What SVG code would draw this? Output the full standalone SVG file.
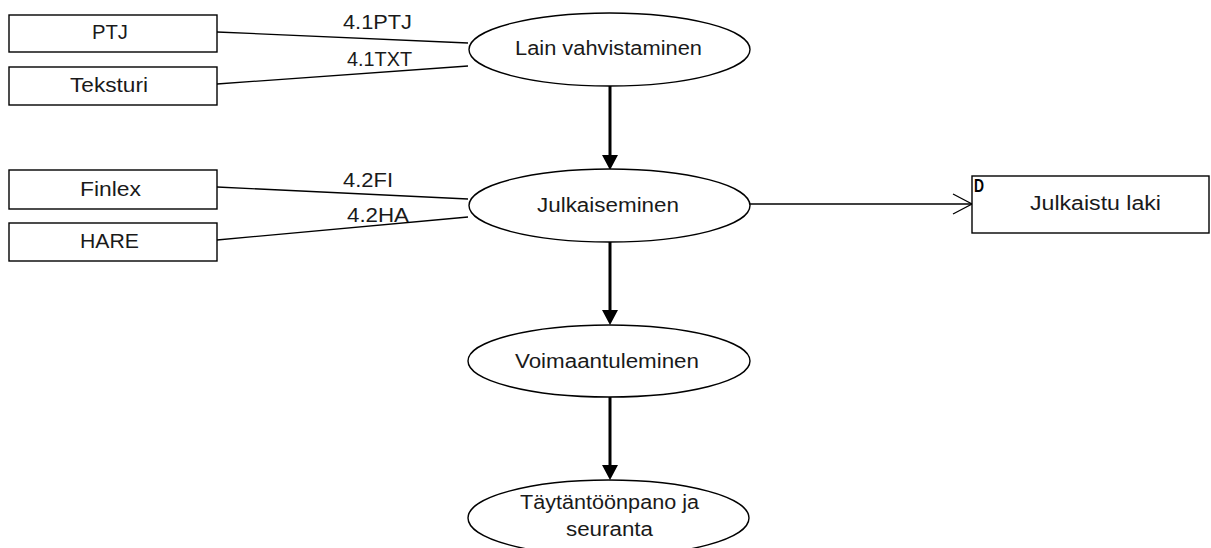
<svg xmlns="http://www.w3.org/2000/svg" width="1211" height="548" viewBox="0 0 1211 548">
  <style>
    .box { fill: #ffffff; stroke: #000000; stroke-width: 1.4; }
    .proc { fill: #ffffff; stroke: #000000; stroke-width: 1.4; }
    .flow { fill: none; stroke: #000000; stroke-width: 1.3; }
    .main { fill: none; stroke: #000000; stroke-width: 3; }
    .head { fill: #000000; stroke: none; }
    text { font-family: "Liberation Sans", Arial, sans-serif; font-size: 20px; fill: #1a1a1a; }
    .tag { font-weight: bold; font-size: 18px; fill: #000000; }
  </style>
  <rect width="1211" height="548" fill="#ffffff"/>

  <!-- connectors -->
  <g id="connectors">
    <!-- data inputs -->
    <polyline class="flow" points="217,32 468,43"/>
    <polyline class="flow" points="217,84 468,66"/>
    <polyline class="flow" points="217,187 468,199"/>
    <polyline class="flow" points="217,240 468,217"/>
    <text x="343" y="29" textLength="69" lengthAdjust="spacingAndGlyphs">4.1PTJ</text>
    <text x="347" y="66" textLength="65" lengthAdjust="spacingAndGlyphs">4.1TXT</text>
    <text x="343" y="187" textLength="50" lengthAdjust="spacingAndGlyphs">4.2FI</text>
    <text x="347" y="222" textLength="62" lengthAdjust="spacingAndGlyphs">4.2HA</text>

    <!-- process sequence -->
    <line class="main" x1="610" y1="86" x2="610" y2="157"/>
    <polygon class="head" points="602,155 618,155 610,170"/>
    <line class="main" x1="610" y1="242" x2="610" y2="312"/>
    <polygon class="head" points="602,310 618,310 610,325"/>
    <line class="main" x1="610" y1="397" x2="610" y2="467"/>
    <polygon class="head" points="602,465 618,465 610,480"/>

    <!-- output -->
    <line class="flow" x1="750" y1="204" x2="972" y2="204"/>
    <polyline class="flow" points="953,194 972,204 953,214"/>
  </g>

  <!-- external sources -->
  <g id="ptj">
    <rect class="box" x="9" y="15" width="208" height="37"/>
    <text x="92" y="39" textLength="36" lengthAdjust="spacingAndGlyphs">PTJ</text>
  </g>
  <g id="teksturi">
    <rect class="box" x="9" y="67" width="208" height="38"/>
    <text x="70" y="92" textLength="78" lengthAdjust="spacingAndGlyphs">Teksturi</text>
  </g>
  <g id="finlex">
    <rect class="box" x="9" y="170" width="208" height="39"/>
    <text x="80" y="196" textLength="61" lengthAdjust="spacingAndGlyphs">Finlex</text>
  </g>
  <g id="hare">
    <rect class="box" x="9" y="223" width="208" height="38"/>
    <text x="80" y="248" textLength="59" lengthAdjust="spacingAndGlyphs">HARE</text>
  </g>

  <!-- processes -->
  <g id="lain-vahvistaminen">
    <ellipse class="proc" cx="609.5" cy="49.5" rx="140.5" ry="36.5"/>
    <text x="515" y="55" textLength="187" lengthAdjust="spacingAndGlyphs">Lain vahvistaminen</text>
  </g>
  <g id="julkaiseminen">
    <ellipse class="proc" cx="609.5" cy="205.5" rx="140.5" ry="36.5"/>
    <text x="537" y="212" textLength="142" lengthAdjust="spacingAndGlyphs">Julkaiseminen</text>
  </g>
  <g id="voimaantuleminen">
    <ellipse class="proc" cx="609" cy="361" rx="141" ry="36"/>
    <text x="515" y="368" textLength="184" lengthAdjust="spacingAndGlyphs">Voimaantuleminen</text>
  </g>
  <g id="taytantoonpano">
    <ellipse class="proc" cx="608.5" cy="518" rx="140.5" ry="38"/>
    <text x="520" y="509" textLength="179" lengthAdjust="spacingAndGlyphs">Täytäntöönpano ja</text>
    <text x="566" y="536" textLength="87" lengthAdjust="spacingAndGlyphs">seuranta</text>
  </g>

  <!-- data store -->
  <g id="julkaistu-laki">
    <rect class="box" x="972" y="176" width="237" height="57"/>
    <text class="tag" x="974" y="192" textLength="10" lengthAdjust="spacingAndGlyphs">D</text>
    <text x="1030" y="210" textLength="131" lengthAdjust="spacingAndGlyphs">Julkaistu laki</text>
  </g>
</svg>
